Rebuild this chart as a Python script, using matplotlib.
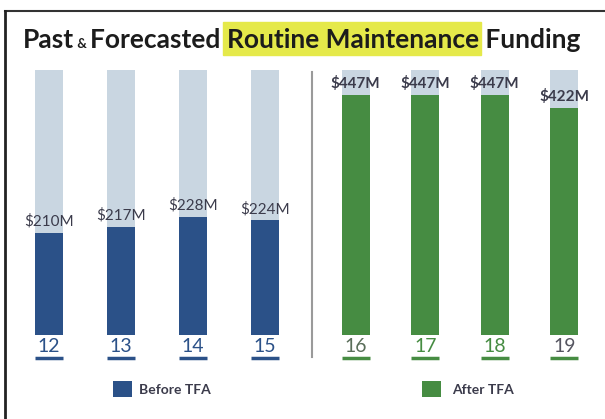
import matplotlib.pyplot as plt
from matplotlib.lines import Line2D
from matplotlib.patches import Rectangle
import numpy as np

plt.rcParams['font.family'] = ['Lato', 'DejaVu Sans']

# data
years_before = ['12', '13', '14', '15']
funding_before = [210, 217, 228, 224]
years_after = ['16', '17', '18', '19']
funding_after = [447, 447, 447, 422]

# scale of each panel (the grey track is the full height)
ylim_before = (95, 393)
ylim_after = (0, 493)

blue = '#2b5188'
green = '#468c42'
track = '#c9d6e1'
label_col = '#3b3b4b'

W, H = 605, 419
fig = plt.figure(figsize=(W / 100, H / 100), dpi=100)


def px(x0, y0, x1, y1):
    # pixel box (from top-left) -> figure fraction rect
    return [x0 / W, 1 - y1 / H, (x1 - x0) / W, (y1 - y0) / H]


ax1 = fig.add_axes(px(13, 70, 301, 335))
ax2 = fig.add_axes(px(321, 70, 599, 335))

panels = [
    (ax1, years_before, funding_before, ylim_before, blue, 0.39, 'normal',
     [blue, blue, blue, blue], 'Before TFA'),
    (ax2, years_after, funding_after, ylim_after, green, 0.40, 'bold',
     ['#5a6e5a', green, green, '#555560'], 'After TFA'),
]

for ax, yrs, vals, ylim, col, w, wt, tcols, name in panels:
    x = np.arange(len(yrs))
    ax.bar(x, ylim[1], width=w, color=track, zorder=1)
    ax.bar(x, vals, width=w, color=col, zorder=2, label=name)
    ax.set_ylim(*ylim)
    ax.set_xlim(-0.5, len(yrs) - 0.5)
    for xi, v in zip(x, vals):
        ax.annotate('$%dM' % v, (xi, v), xytext=(0, 3), textcoords='offset points',
                    ha='center', va='bottom', fontsize=11, fontweight=wt,
                    color=label_col, zorder=3)
    ax.set_xticks(x, yrs)
    ax.tick_params(axis='x', length=0, pad=2, labelsize=14)
    for t, c in zip(ax.get_xticklabels(), tcols):
        t.set_color(c)
    ax.set_yticks([])
    for s in ax.spines.values():
        s.set_visible(False)
    # underline under the year labels
    trans = ax.get_xaxis_transform()
    for xi in x:
        ax.plot([xi - w / 2, xi + w / 2], [-0.087, -0.087], color=col, lw=2.5,
                transform=trans, clip_on=False, solid_capstyle='butt')

ax1.legend(loc='center left', bbox_to_anchor=(106 / W, 1 - 389 / H),
           bbox_transform=fig.transFigure, frameon=False, handlelength=1.35,
           handleheight=1.35, handletextpad=0.5, borderpad=0,
           prop={'size': 10, 'weight': 'bold'}, labelcolor=label_col)
ax2.legend(loc='center left', bbox_to_anchor=(415 / W, 1 - 389 / H),
           bbox_transform=fig.transFigure, frameon=False, handlelength=1.35,
           handleheight=1.35, handletextpad=0.8, borderpad=0,
           prop={'size': 10, 'weight': 'bold'}, labelcolor=label_col)

# divider and frame
fig.add_artist(Line2D([312 / W, 312 / W], [1 - 72 / H, 1 - 357 / H], color='#9a9a9a', lw=1.5))
fig.add_artist(Line2D([5 / W, 1], [1 - 11 / H, 1 - 11 / H], color='#333333', lw=1.5))
fig.add_artist(Line2D([5 / W, 5 / W], [1 - 11 / H, 0], color='#222222', lw=2))

# title, drawn piece by piece
renderer = fig.canvas.get_renderer()
parts = [('Past', 19, False), (' & ', 9.5, False), ('Forecasted ', 19, False),
         ('Routine Maintenance', 19, True), (' Funding', 19, False)]
xpos = 23
ybase = 1 - 48 / H
for txt, size, hl in parts:
    t = fig.text(xpos / W, ybase, txt, fontsize=size, fontweight='bold',
                 color='#1c1c1c', va='baseline', ha='left', zorder=5)
    bb = t.get_window_extent(renderer)
    if hl:
        fig.add_artist(Rectangle((bb.x0 / W - 4 / W, 1 - 55 / H), (bb.width + 6) / W, 33 / H,
                                 transform=fig.transFigure, color='#e5e94a', zorder=1))
    xpos += bb.width

fig.savefig('out.png', dpi=100)
